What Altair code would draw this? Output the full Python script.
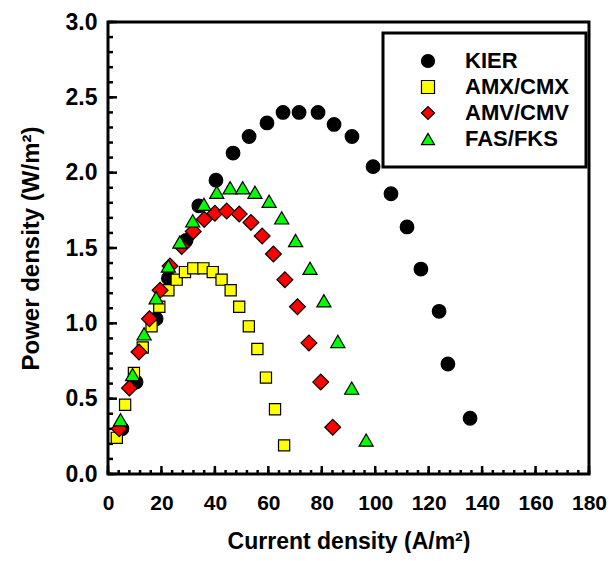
import altair as alt
import pandas as pd

series_names = ["KIER", "AMX/CMX", "AMV/CMV", "FAS/FKS"]

kier_x = [5.2, 10.5, 18.0, 22.6, 29.2, 34.0, 40.4, 46.8, 52.8, 59.5, 65.5,
          71.5, 78.6, 84.6, 91.3, 99.2, 105.9, 111.9, 117.1, 123.9, 127.2, 135.5]
kier_y = [0.30, 0.61, 1.03, 1.30, 1.55, 1.78, 1.95, 2.13, 2.24, 2.33, 2.40,
          2.40, 2.40, 2.32, 2.24, 2.04, 1.86, 1.64, 1.36, 1.08, 0.73, 0.37]

amx_x = [3.3, 6.4, 9.7, 13.0, 16.3, 19.2, 22.6, 25.7, 28.8, 31.9, 35.7,
         39.2, 42.5, 45.9, 49.1, 52.7, 55.9, 59.1, 62.5, 65.9]
amx_y = [0.24, 0.46, 0.67, 0.84, 0.98, 1.11, 1.22, 1.29, 1.34, 1.365, 1.365,
         1.34, 1.29, 1.22, 1.11, 0.98, 0.83, 0.64, 0.43, 0.19]

amv_x = [4.2, 8.0, 11.6, 15.5, 19.5, 23.2, 27.6, 31.9, 36.0, 40.0, 44.4,
         49.1, 53.5, 57.7, 61.9, 66.2, 70.9, 75.2, 79.6, 84.1]
amv_y = [0.30, 0.57, 0.81, 1.03, 1.22, 1.38, 1.51, 1.61, 1.69, 1.73, 1.745,
         1.725, 1.67, 1.58, 1.46, 1.29, 1.11, 0.87, 0.61, 0.31]

fas_x = [4.7, 9.2, 13.5, 18.0, 22.6, 26.9, 31.7, 35.9, 40.7, 45.7, 50.4,
         55.0, 60.3, 65.0, 70.2, 75.6, 80.8, 86.0, 91.2, 96.6]
fas_y = [0.36, 0.66, 0.93, 1.17, 1.38, 1.54, 1.68, 1.79, 1.87, 1.90, 1.90,
         1.87, 1.81, 1.70, 1.55, 1.365, 1.15, 0.88, 0.57, 0.225]

x_labels = [0, 20, 40, 60, 80, 100, 120, 140, 160, 180]
y_labels = [0.0, 0.5, 1.0, 1.5, 2.0, 2.5, 3.0]
x_minor = list(range(0, 181, 4))
y_minor = [round(i * 0.1, 1) for i in range(0, 31)]

fills = ["#000000", "#FFFF00", "#FF0000", "#00FF00"]
shapes = ["circle", "square", "diamond", "triangle-up"]
sizes = [185, 125, 250, 200]

rows = []
for name, xs, ys in zip(series_names, [kier_x, amx_x, amv_x, fas_x],
                        [kier_y, amx_y, amv_y, fas_y]):
    for a, b in zip(xs, ys):
        rows.append({"series": name, "current": a, "power": b})
df = pd.DataFrame(rows)

W, H = 481, 452
FONT = "Liberation Sans"

xscale = alt.Scale(domain=[0, 180], nice=False, zero=False)
yscale = alt.Scale(domain=[0, 3], nice=False, zero=False)

xaxis = alt.Axis(orient="bottom", values=x_labels, ticks=False, domain=False,
                 grid=False, labelOverlap=False, labelBound=False, labelFlush=False,
                 labelPadding=18, labelFontSize=21, labelFont=FONT,
                 labelFontWeight="bold", labelColor="black",
                 title="Current density (A/m²)", titleFont=FONT,
                 titleFontSize=23, titleFontWeight="bold",
                 titleColor="black", titlePadding=17)
yaxis = alt.Axis(orient="left", values=y_labels, format=".1f", ticks=False,
                 domain=False, grid=False, labelOverlap=False,
                 labelBound=False, labelFlush=False,
                 labelPadding=11, labelFontSize=23,
                 labelFont=FONT, labelFontWeight="bold", labelColor="black",
                 title="Power density (W/m²)", titleFont=FONT,
                 titleFontSize=24, titleFontWeight="bold",
                 titleColor="black", titlePadding=22)

color_scale = alt.Scale(domain=series_names, range=fills)
shape_scale = alt.Scale(domain=series_names, range=shapes)


def series_layer(name, size):
    return alt.Chart(df).transform_filter(
        alt.datum.series == name
    ).mark_point(
        filled=True, opacity=1, stroke="black", strokeWidth=1.2, size=size
    ).encode(
        x=alt.X("current:Q", scale=xscale, axis=xaxis),
        y=alt.Y("power:Q", scale=yscale, axis=yaxis),
        color=alt.Color("series:N", scale=color_scale, legend=alt.Legend(title=None)),
        shape=alt.Shape("series:N", scale=shape_scale, legend=alt.Legend(title=None)),
    )


point_layers = [series_layer(n, s) for n, s in zip(series_names, sizes)]

xt_minor = pd.DataFrame({"v": x_minor})
xt_major = pd.DataFrame({"v": x_labels})
yt_minor = pd.DataFrame({"v": y_minor})
yt_major = pd.DataFrame({"v": y_labels})


def xticks(data, length):
    # inward ticks on the bottom frame, positioned through the x scale
    return alt.Chart(data).mark_rule(color="black", strokeWidth=2.5).encode(
        x=alt.X("v:Q", scale=xscale, axis=xaxis),
        y=alt.value(H),
        y2=alt.value(H - length),
    )


def yticks(data, length):
    # inward ticks on the left frame, positioned through the y scale
    return alt.Chart(data).mark_rule(color="black", strokeWidth=2.5).encode(
        y=alt.Y("v:Q", scale=yscale, axis=yaxis),
        x=alt.value(0),
        x2=alt.value(length),
    )


chart = alt.layer(
    xticks(xt_minor, 4), xticks(xt_major, 8),
    yticks(yt_minor, 5), yticks(yt_major, 9),
    *point_layers,
).properties(
    width=W, height=H,
    autosize=alt.AutoSizeParams(type="none"),
    padding={"left": 100, "top": 14, "right": 18, "bottom": 79},
    background="white",
).configure_view(
    stroke="black", strokeWidth=3
).configure_legend(
    orient="none", legendX=275, legendY=11,
    strokeColor="black", strokeWidth=3, fillColor="white",
    padding=17, symbolOffset=17, labelOffset=26, rowPadding=4, symbolSize=170,
    labelFont=FONT, labelFontSize=22, labelFontWeight="bold", labelColor="black",
    symbolStrokeColor="black", symbolStrokeWidth=1.2,
)

chart.save("out.html", embed_options={"renderer": "svg", "actions": False})
